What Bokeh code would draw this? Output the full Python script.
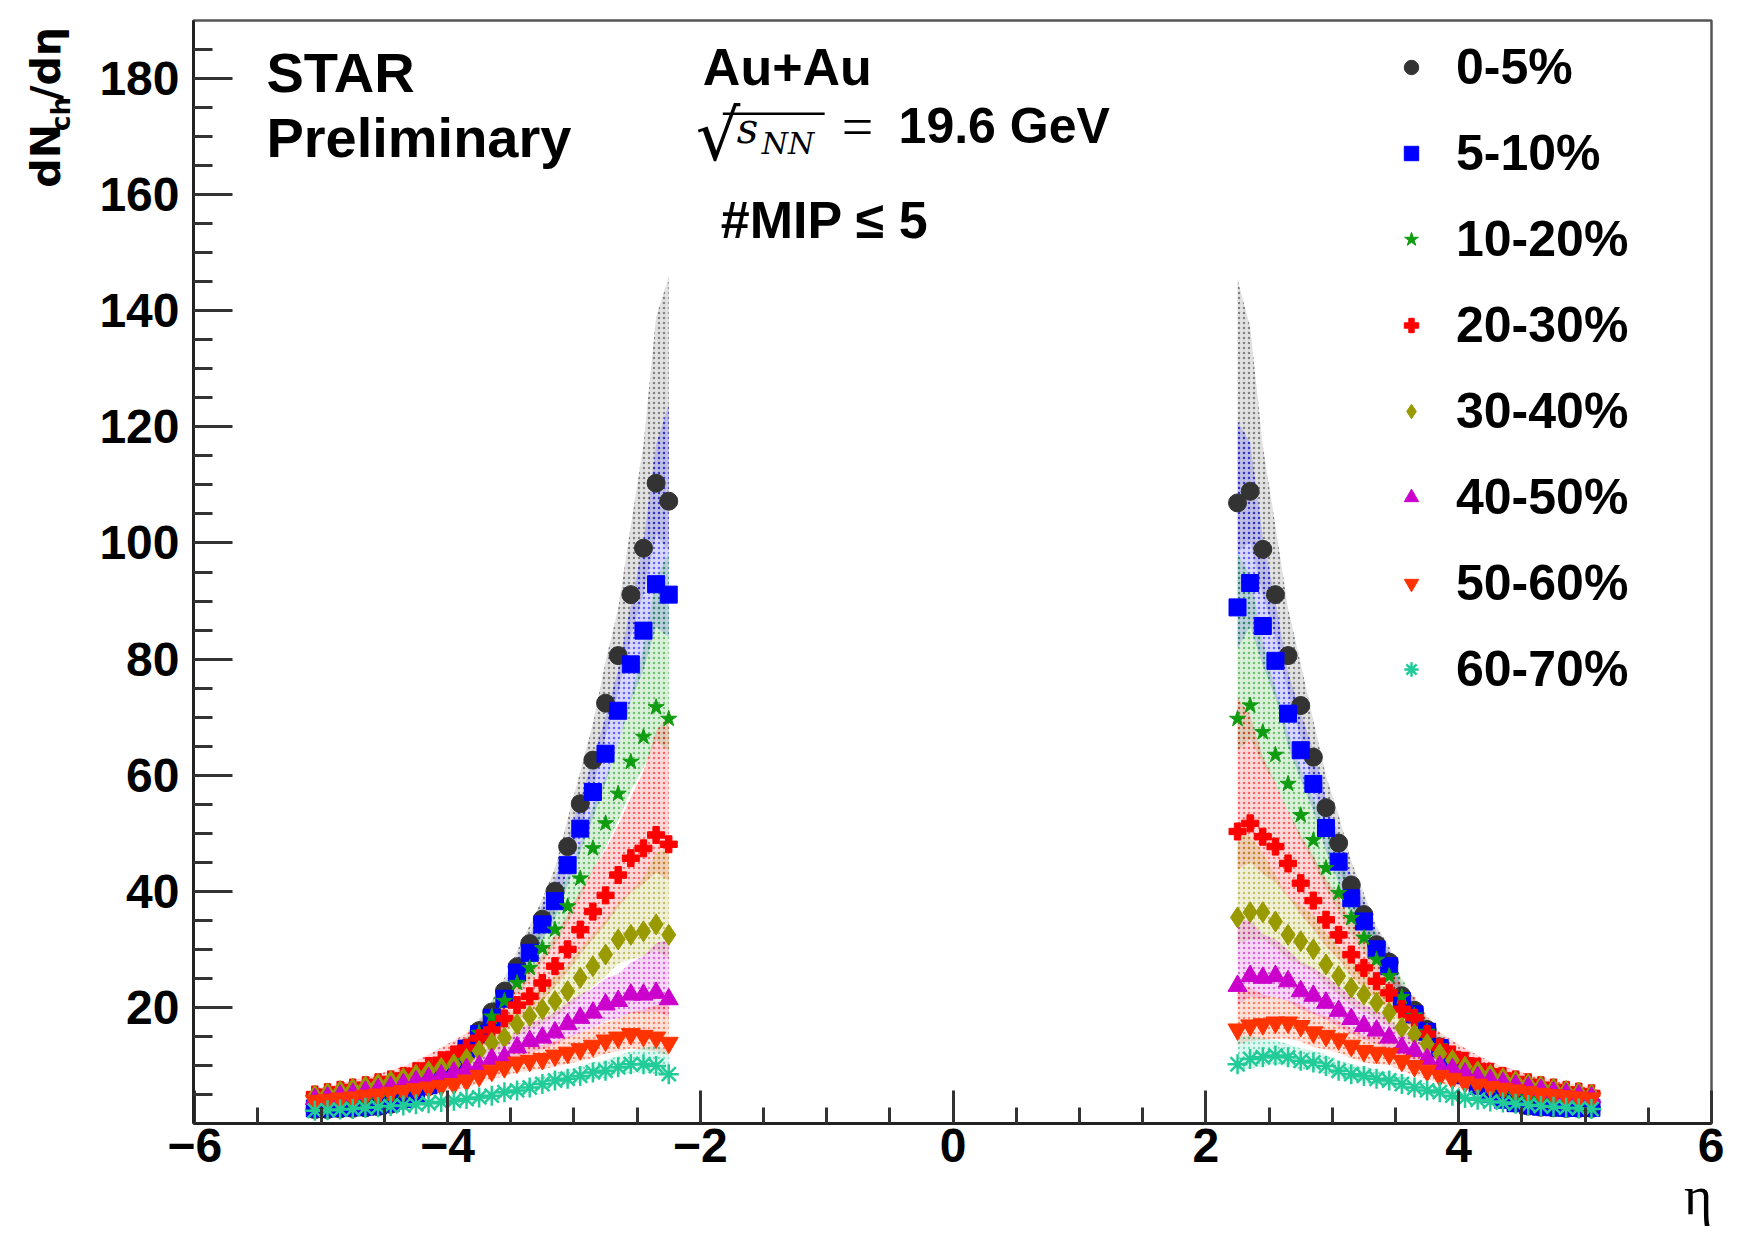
import math
from bokeh.plotting import figure
from bokeh.layouts import row, column
from bokeh.models import FixedTicker, Label, Legend, LegendItem, BoxAnnotation, ColumnDataSource
from bokeh.embed import file_html
from bokeh.resources import INLINE

# ---------------- data ----------------
eta_left = [-5.05, -4.95, -4.85, -4.75, -4.65, -4.55, -4.45, -4.35, -4.25, -4.15,
            -4.05, -3.95, -3.85, -3.75, -3.65, -3.55, -3.45, -3.35, -3.25, -3.15,
            -3.05, -2.95, -2.85, -2.75, -2.65, -2.55, -2.45, -2.35, -2.25]
eta_right = [2.25, 2.35, 2.45, 2.55, 2.65, 2.75, 2.85, 2.95, 3.05, 3.15,
             3.25, 3.35, 3.45, 3.55, 3.65, 3.75, 3.85, 3.95, 4.05, 4.15,
             4.25, 4.35, 4.45, 4.55, 4.65, 4.75, 4.85, 4.95, 5.05]

labels = ["0-5%", "5-10%", "10-20%", "20-30%", "30-40%", "40-50%", "50-60%", "60-70%"]

c0_5_left = [2.4, 2.4, 2.5, 2.6, 2.7, 2.9, 3.3, 4.0, 5.0, 6.4, 8.2, 10.4, 13.0, 16.0, 19.2,
             22.8, 27.0, 31.0, 35.2, 40.0, 47.7, 55.1, 62.6, 72.4, 80.6, 91.1, 99.1, 110.3, 107.2]
c5_10_left = [2.6, 2.6, 2.7, 2.8, 2.9, 3.1, 3.5, 4.2, 5.2, 6.6, 8.3, 10.5, 12.9, 15.4, 18.2,
              21.5, 26.0, 29.4, 34.3, 38.3, 44.5, 50.8, 57.1, 63.7, 71.1, 79.1, 84.9, 92.9, 91.1]
c10_20_left = [3.2, 3.3, 3.5, 3.7, 4.0, 4.4, 4.9, 5.6, 6.5, 7.7, 9.2, 11.0, 13.0, 15.6, 18.4,
               21.1, 24.2, 26.8, 30.2, 33.4, 37.4, 42.2, 47.4, 51.7, 56.8, 62.3, 66.6, 71.7, 69.7]
c20_30_left = [5.0, 5.4, 5.8, 6.2, 6.6, 7.1, 7.6, 8.2, 9.0, 9.9, 10.9, 11.9, 13.0, 14.7, 16.1,
               18.1, 20.4, 21.9, 24.2, 27.1, 30.0, 33.4, 36.5, 39.3, 42.8, 45.7, 47.4, 49.7, 48.1]
c30_40_left = [4.8, 5.2, 5.6, 6.0, 6.4, 6.8, 7.3, 7.8, 8.4, 9.0, 9.6, 10.2, 11.1, 12.5, 13.9,
               14.8, 17.1, 18.5, 19.7, 21.1, 22.8, 25.1, 27.1, 29.1, 31.7, 32.5, 33.1, 34.3, 32.5]
c40_50_left = [4.2, 4.5, 4.8, 5.1, 5.5, 5.9, 6.3, 6.8, 7.3, 7.8, 8.3, 8.8, 9.4, 9.9, 11.1,
               11.4, 13.1, 14.2, 14.8, 15.7, 17.1, 18.2, 19.1, 20.5, 21.1, 22.2, 22.2, 22.5, 21.4]
c50_60_left = [3.9, 4.1, 4.3, 4.5, 4.8, 5.0, 5.3, 5.6, 5.9, 6.2, 6.5, 6.8, 7.4, 8.2, 9.1,
               9.7, 10.5, 10.8, 11.1, 11.7, 12.2, 12.8, 13.4, 14.3, 14.8, 15.4, 15.1, 14.8, 13.9]
c60_70_left = [2.2, 2.3, 2.4, 2.5, 2.7, 2.8, 3.0, 3.1, 3.3, 3.5, 3.7, 3.9, 4.2, 4.5, 4.8,
               5.4, 5.7, 6.2, 6.8, 7.4, 7.7, 8.2, 8.8, 9.1, 9.7, 10.2, 10.2, 9.9, 8.5]

c0_5_right = [106.9, 108.9, 98.9, 91.1, 80.6, 72.0, 63.1, 54.4, 48.3, 41.1, 36.0, 30.8, 27.8, 22.0,
              19.5, 16.2, 13.2, 10.6, 8.4, 6.6, 5.2, 4.2, 3.5, 3.0, 2.8, 2.7, 2.6, 2.6, 2.6]
c5_10_right = [88.9, 93.1, 85.7, 79.7, 70.6, 64.3, 58.5, 50.9, 45.1, 38.8, 34.8, 30.0, 27.1, 21.1,
               18.8, 15.8, 13.0, 10.5, 8.3, 6.5, 5.1, 4.1, 3.5, 3.1, 2.9, 2.8, 2.7, 2.7, 2.7]
c10_20_right = [69.7, 72.0, 67.4, 63.5, 58.5, 53.1, 48.8, 44.0, 39.7, 35.4, 32.0, 28.2, 25.4, 21.8,
                18.6, 15.8, 13.3, 11.0, 9.2, 7.7, 6.5, 5.6, 4.9, 4.4, 4.0, 3.7, 3.5, 3.3, 3.2]
c20_30_right = [50.3, 51.7, 49.4, 47.7, 44.8, 41.4, 38.4, 35.1, 32.5, 29.1, 26.8, 24.5, 22.5, 19.7,
                18.2, 15.4, 13.1, 11.9, 10.8, 9.8, 8.9, 8.2, 7.6, 7.1, 6.6, 6.2, 5.8, 5.5, 5.2]
c30_40_right = [35.5, 36.4, 36.4, 34.8, 32.5, 31.4, 30.0, 27.4, 25.4, 23.4, 22.2, 20.8, 19.1, 16.5,
                15.4, 13.7, 12.0, 10.9, 9.8, 9.0, 8.4, 7.8, 7.3, 6.8, 6.4, 6.0, 5.6, 5.3, 5.0]
c40_50_right = [23.7, 25.4, 25.1, 25.4, 24.5, 22.8, 22.0, 20.8, 19.4, 18.0, 16.8, 16.0, 14.8, 13.1,
                12.5, 11.1, 9.9, 9.4, 8.6, 8.0, 7.5, 7.0, 6.6, 6.2, 5.8, 5.4, 5.1, 4.8, 4.5]
c50_60_right = [16.2, 16.9, 17.1, 17.4, 17.4, 16.8, 15.7, 15.1, 14.5, 13.4, 12.5, 12.2, 12.0, 10.8,
                9.9, 9.1, 8.2, 7.7, 7.1, 6.7, 6.3, 6.0, 5.7, 5.4, 5.1, 4.9, 4.7, 4.5, 4.3]
c60_70_right = [10.2, 11.1, 11.4, 11.7, 11.4, 10.8, 10.5, 9.9, 9.1, 8.5, 8.2, 7.7, 7.4, 6.8,
                6.2, 5.7, 5.4, 4.8, 4.4, 4.1, 3.8, 3.6, 3.4, 3.2, 3.0, 2.9, 2.7, 2.6, 2.5]

# systematic uncertainty (relative)
sys_up = [0.10, 0.10, 0.15, 0.20, 0.20, 0.22, 0.22, 0.20]
sys_down = [0.08, 0.08, 0.08, 0.13, 0.13, 0.14, 0.16, 0.14]
# additional upward uncertainty of the innermost bins (|eta| = 2.25, 2.35, 2.45, 2.55)
sys_up_inner = [0.26, 0.16, 0.08, 0.03]

x_major = [-6, -4, -2, 0, 2, 4, 6]
x_minor = [-5.5, -5, -4.5, -3.5, -3, -2.5, -1.5, -1, -0.5, 0.5, 1, 1.5, 2.5, 3, 3.5, 4.5, 5, 5.5]
x_tick_text = {-6: "\u22126", -4: "\u22124", -2: "\u22122", 0: "0", 2: "2", 4: "4", 6: "6"}
y_major = [20, 40, 60, 80, 100, 120, 140, 160, 180]
y_minor = [5, 10, 15, 25, 30, 35, 45, 50, 55, 65, 70, 75, 85, 90, 95, 105, 110, 115,
           125, 130, 135, 145, 150, 155, 165, 170, 175, 185]
x_title = "\u03b7"

left_sets = [c0_5_left, c5_10_left, c10_20_left, c20_30_left, c30_40_left, c40_50_left, c50_60_left, c60_70_left]
right_sets = [c0_5_right, c5_10_right, c10_20_right, c20_30_right, c30_40_right, c40_50_right, c50_60_right, c60_70_right]

# ---------------- styles / layout ----------------
colors = ["#333333", "#0000ff", "#109c10", "#ff0000", "#999900", "#cc00cc", "#ff3300", "#22cc99"]
markers = ["circle", "square", "star", "plus", "diamond", "triangle", "inverted_triangle", "asterisk"]
sizes = [18, 17, 17, 17, 21, 19, 19, 20]

TOTAL_W, TOTAL_H = 1724, 1234
YW = 96                 # strip holding the y title
FL, FR, FT, FB = 191, 1711, 20, 1123   # frame edges in page pixels
X0, X1 = -6.01, 6.0
Y0, Y1 = 0.0, 190.0
BK = 0.40               # baseline correction factor for Label text

# can the axis title be put at the end of the axis?
_probe = figure(width=10, height=10)
try:
    _probe.xaxis.axis_label_align = "end"
    AXIS_TITLE = True
except Exception:
    AXIS_TITLE = False

HM = TOTAL_H if AXIS_TITLE else 1192

def dx(fx):
    return X0 + (fx - FL) / (FR - FL) * (X1 - X0)

def dy(fy):
    return Y0 + (FB - fy) / (FB - FT) * (Y1 - Y0)

p = figure(width=TOTAL_W - YW, height=HM, x_range=(X0, X1), y_range=(Y0, Y1),
           output_backend="svg", toolbar_location=None,
           min_border_left=FL - YW, min_border_right=TOTAL_W - FR,
           min_border_top=FT, min_border_bottom=HM - FB)
p.xgrid.visible = False
p.ygrid.visible = False
p.outline_line_color = "#555555"
p.outline_line_width = 2.5
p.background_fill_color = "white"

p.xaxis.ticker = FixedTicker(ticks=x_major, minor_ticks=x_minor)
p.xaxis.major_label_overrides = x_tick_text
p.yaxis.ticker = FixedTicker(ticks=y_major, minor_ticks=y_minor)
for ax in (p.xaxis, p.yaxis):
    ax.axis_line_width = 3
    ax.axis_line_color = "#222222"
    ax.major_tick_line_width = 3
    ax.minor_tick_line_width = 3
    ax.major_tick_line_color = "#333333"
    ax.minor_tick_line_color = "#333333"
    ax.major_tick_out = 0
    ax.minor_tick_out = 0
    ax.major_label_text_font = "Liberation Sans"
    ax.major_label_text_font_style = "bold"
    ax.major_label_text_font_size = "48px"
    ax.major_label_text_color = "black"
p.xaxis.major_tick_in = 33
p.xaxis.minor_tick_in = 16
p.yaxis.major_tick_in = 39
p.yaxis.minor_tick_in = 19
p.xaxis.major_label_standoff = 5 if AXIS_TITLE else 8
p.yaxis.major_label_standoff = 14

if AXIS_TITLE:
    # trailing no-break spaces keep the glyph clear of the right edge
    p.xaxis.axis_label = x_title + "\u00a0\u00a0"
    p.xaxis.axis_label_align = "end"
    p.xaxis.axis_label_standoff = 1
    p.xaxis.axis_label_text_font = "Liberation Serif"
    p.xaxis.axis_label_text_font_style = "normal"
    p.xaxis.axis_label_text_font_size = "54px"
    p.xaxis.axis_label_text_color = "black"

# systematic bands
for i in range(8):
    for etas, vals, inner_first in ((eta_left, left_sets[i], False), (eta_right, right_sets[i], True)):
        n = len(vals)
        up, lo = [], []
        for k in range(n):
            d = k if inner_first else n - 1 - k
            extra = sys_up_inner[d] if d < len(sys_up_inner) else 0.0
            up.append(vals[k] * (1 + sys_up[i] + extra))
            lo.append(vals[k] * (1 - sys_down[i]))
        src = ColumnDataSource(dict(x=etas, lo=lo, up=up))
        p.varea(x="x", y1="lo", y2="up", source=src, fill_color=colors[i], fill_alpha=0.15,
                hatch_pattern="dot", hatch_color=colors[i], hatch_alpha=0.55, hatch_scale=5,
                hatch_weight=1)

# data points
renderers = []
for i in range(8):
    src = ColumnDataSource(dict(x=eta_left + eta_right, y=left_sets[i] + right_sets[i]))
    if markers[i] == "asterisk":
        r = p.scatter(x="x", y="y", source=src, marker="asterisk", size=sizes[i],
                      line_color=colors[i], line_width=2.5)
    else:
        r = p.scatter(x="x", y="y", source=src, marker=markers[i], size=sizes[i],
                      fill_color=colors[i], line_color=colors[i], line_width=1)
    renderers.append(r)

legend = Legend(items=[LegendItem(label=labels[i], renderers=[renderers[i]]) for i in range(8)],
                location=(1200, 424), orientation="vertical",
                glyph_width=36, glyph_height=60, label_height=60, spacing=26,
                padding=0, margin=0, label_standoff=27,
                label_text_font="Liberation Sans", label_text_font_style="bold",
                label_text_font_size="50px", label_text_color="black",
                border_line_alpha=0, background_fill_alpha=0)
p.add_layout(legend)

def add_text(fig, x, y, text, size, font="Liberation Sans", style="bold", angle=0.0, align="left"):
    fig.add_layout(Label(x=x, y=y, text=text, text_font=font, text_font_style=style,
                         text_font_size="%dpx" % size, text_color="black",
                         text_baseline="alphabetic", text_align=align, angle=angle))

def main_text(fx, base, text, size, **kw):
    add_text(p, dx(fx), dy(base - BK * size), text, size, **kw)

main_text(264, 94, "STAR", 56)
main_text(264, 159, "Preliminary", 56)
main_text(701, 87, "Au+Au", 52)
main_text(694, 163, "\u221a", 70, font="DejaVu Serif", style="normal")
main_text(735, 145, "s", 42, font="DejaVu Serif", style="italic")
main_text(760, 155, "NN", 30, font="DejaVu Serif", style="italic")
p.add_layout(BoxAnnotation(left=dx(721), right=dx(823), top=dy(112), bottom=dy(114.5),
                           fill_color="black", fill_alpha=1.0, line_alpha=0))
main_text(840, 149, "=", 56, font="Liberation Serif", style="normal")
main_text(897, 145, "19.6 GeV", 50)
main_text(719, 240, "#MIP \u2264 5", 52)

# y title strip (data units = pixels, y measured from the bottom of the strip)
yfig = figure(width=YW, height=HM, x_range=(0, YW), y_range=(0, HM),
              output_backend="svg", toolbar_location=None,
              x_axis_location=None, y_axis_location=None, min_border=0,
              outline_line_color=None)
yfig.grid.visible = False
ang = math.pi / 2
add_text(yfig, 62 - BK * 41, HM - 187, "dN", 41, font="DejaVu Sans", angle=ang)
add_text(yfig, 71 - BK * 26, HM - 123.5, "ch", 26, font="DejaVu Sans", angle=ang)
add_text(yfig, 62 - BK * 41, HM - 89.5, "/d\u03b7", 41, font="DejaVu Sans", angle=ang)

if AXIS_TITLE:
    layout = row(yfig, p)
else:
    EH = TOTAL_H - HM
    efig = figure(width=TOTAL_W, height=EH, x_range=(0, TOTAL_W), y_range=(0, EH),
                  output_backend="svg", toolbar_location=None,
                  x_axis_location=None, y_axis_location=None, min_border=0,
                  outline_line_color=None)
    efig.grid.visible = False
    add_text(efig, 1708, EH - (1215 - HM - BK * 48), x_title, 48, font="Liberation Serif",
             style="normal", align="right")
    layout = column(row(yfig, p), efig)

open("out.html", "w").write(file_html(layout, INLINE))
